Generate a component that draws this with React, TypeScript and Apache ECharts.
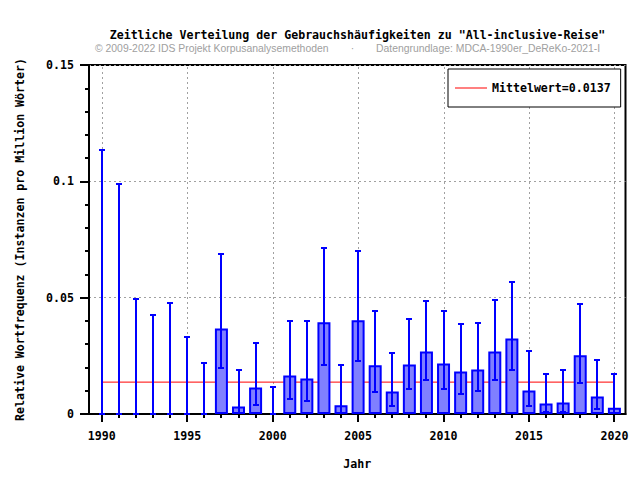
import React, { useEffect, useRef } from "react";
import * as echarts from "echarts";

const years = [
  1990, 1991, 1992, 1993, 1994, 1995, 1996, 1997, 1998, 1999, 2000,
  2001, 2002, 2003, 2004, 2005, 2006, 2007, 2008, 2009, 2010,
  2011, 2012, 2013, 2014, 2015, 2016, 2017, 2018, 2019, 2020,
];
const freq: (number | null)[] = [
  null, null, null, null, null, null, null, 0.0368, 0.0032, 0.0114, null,
  0.0165, 0.0153, 0.0394, 0.0038, 0.0403, 0.0209, 0.0097, 0.0213, 0.0269, 0.0217,
  0.0183, 0.0191, 0.0269, 0.0325, 0.0101, 0.0045, 0.0049, 0.0252, 0.0075, 0.0027,
];
const errLow = [
  0, 0, 0, 0, 0, 0, 0, 0.0196, 0.0003, 0.0039, 0,
  0.0066, 0.0056, 0.0212, 0.0004, 0.0229, 0.0095, 0.0035, 0.0109, 0.0148, 0.0109,
  0.0087, 0.0097, 0.0148, 0.0187, 0.0036, 0.001, 0.001, 0.0135, 0.0023, 0.0004,
];
const errHigh = [
  0.1134, 0.0989, 0.0493, 0.0426, 0.0476, 0.0329, 0.0221, 0.0687, 0.0191, 0.0305, 0.0114,
  0.0398, 0.0398, 0.0713, 0.0212, 0.07, 0.0441, 0.0263, 0.041, 0.0487, 0.0441,
  0.0385, 0.039, 0.0489, 0.0566, 0.0269, 0.0174, 0.0187, 0.0471, 0.0234, 0.0174,
];
const meanValue = 0.0137;
const xTickLabels = ["1990", "1995", "2000", "2005", "2010", "2015", "2020"];

const titleText = 'Zeitliche Verteilung der Gebrauchshäufigkeiten zu "All-inclusive-Reise"';
const subLeft = "© 2009-2022 IDS Projekt Korpusanalysemethoden";
const subDot = "·";
const subRight = "Datengrundlage: MDCA-1990er_DeReKo-2021-I";
const legendLabel = "Mittelwert=0.0137";
const xName = "Jahr";
const yName = "Relative Wortfrequenz (Instanzen pro Million Wörter)";

const MONO = "'DejaVu Sans Mono', monospace";
const SANS = "'Liberation Sans', Arial, sans-serif";
const FS = 11.6;
const SUB_FS = 10.4;

export default function App() {
  const ref = useRef<HTMLDivElement>(null);
  useEffect(() => {
    if (!ref.current) return;
    const chart = echarts.init(ref.current, null, { renderer: "svg" });
    const yMax = 0.15;

    const decorData = years.map((y) => [y, xTickLabels.indexOf(String(y))]);
    const barData = years
      .map((y, i) => [y, freq[i]])
      .filter((d) => d[1] !== null);
    const errData = years.map((y, i) => [y, errLow[i], errHigh[i]]);

    const subStyle = {
      fontFamily: SANS,
      fontSize: SUB_FS,
      fill: "#a0a0a0",
      textVerticalAlign: "middle",
    };

    chart.setOption({
      animation: false,
      grid: {
        left: 89,
        right: 14.5,
        top: 65,
        bottom: 66,
        show: true,
        borderColor: "#000",
        borderWidth: 2,
      },
      graphic: [
        {
          type: "text",
          x: 357.5,
          y: 34.5,
          style: {
            text: titleText,
            fontFamily: MONO,
            fontWeight: "bold",
            fontSize: FS,
            fill: "#000",
            textAlign: "center",
            textVerticalAlign: "middle",
          },
        },
        { type: "text", x: 95, y: 48, style: { ...subStyle, text: subLeft, textAlign: "left" } },
        { type: "text", x: 352.5, y: 48, style: { ...subStyle, text: subDot, textAlign: "center" } },
        { type: "text", x: 376, y: 48, style: { ...subStyle, text: subRight, textAlign: "left" } },
      ],
      legend: {
        data: [{ name: legendLabel, icon: "rect" }],
        left: 448,
        top: 69,
        borderColor: "#000",
        borderWidth: 1,
        backgroundColor: "#fff",
        padding: [12, 10, 12, 7],
        itemWidth: 32,
        itemHeight: 1,
        selectedMode: false,
        textStyle: {
          fontFamily: MONO,
          fontWeight: "bold",
          fontSize: FS,
          color: "#000",
          lineHeight: 14,
        },
      },
      xAxis: {
        type: "value",
        min: 1989.25,
        max: 2020.65,
        name: xName,
        nameLocation: "middle",
        nameGap: 44,
        nameTextStyle: { fontFamily: MONO, fontWeight: "bold", fontSize: FS, color: "#000" },
        axisLine: { show: true, lineStyle: { color: "#000", width: 2 } },
        axisTick: { show: false },
        axisLabel: { show: false },
        splitLine: { show: false },
      },
      yAxis: {
        type: "value",
        min: 0,
        max: yMax,
        interval: 0.05,
        name: yName,
        nameLocation: "middle",
        nameGap: 63,
        nameTextStyle: { fontFamily: MONO, fontWeight: "bold", fontSize: FS, color: "#000" },
        axisLine: { show: true, lineStyle: { color: "#000", width: 2 } },
        axisTick: { show: true, inside: false, length: 9, lineStyle: { color: "#000", width: 2 } },
        minorTick: { show: true, splitNumber: 5, length: 4, lineStyle: { color: "#000", width: 2 } },
        axisLabel: { margin: 15, fontFamily: MONO, fontWeight: "bold", fontSize: FS, color: "#000" },
        splitLine: { show: true, lineStyle: { color: "#a0a0a0", type: [2, 3], width: 1 } },
      },
      series: [
        {
          type: "custom",
          name: "decor",
          z: 1,
          silent: true,
          clip: false,
          data: decorData,
          renderItem: (params: any, api: any) => {
            const x = api.value(0);
            const labelIdx = api.value(1);
            const major = labelIdx >= 0;
            const p0 = api.coord([x, 0]);
            const pTop = api.coord([x, yMax]);
            const px = Math.round(p0[0]);
            const children: any[] = [
              {
                type: "line",
                shape: { x1: px, y1: p0[1], x2: px, y2: p0[1] + (major ? 8 : 4) },
                style: { stroke: "#000", lineWidth: 2 },
              },
            ];
            if (major) {
              children.unshift({
                type: "line",
                shape: { x1: px + 0.5, y1: p0[1], x2: px + 0.5, y2: pTop[1] },
                style: { stroke: "#a0a0a0", lineWidth: 1, lineDash: [2, 3] },
              });
              children.push({
                type: "text",
                x: p0[0],
                y: p0[1] + 22,
                style: {
                  text: xTickLabels[labelIdx],
                  fontFamily: MONO,
                  fontWeight: "bold",
                  fontSize: FS,
                  fill: "#000",
                  textAlign: "center",
                  textVerticalAlign: "middle",
                },
              });
            }
            return { type: "group", children };
          },
        },
        {
          type: "line",
          name: legendLabel,
          z: 2,
          silent: true,
          data: [
            [years[0], meanValue],
            [years[years.length - 1], meanValue],
          ],
          symbol: "none",
          lineStyle: { color: "#ff0000", width: 1 },
          itemStyle: { color: "#ff0000" },
        },
        {
          type: "bar",
          name: "freq",
          z: 3,
          silent: true,
          barWidth: 13,
          data: barData,
          itemStyle: { color: "#8080ff", borderColor: "#0000ff", borderWidth: 2 },
        },
        {
          type: "custom",
          name: "err",
          z: 4,
          silent: true,
          clip: false,
          data: errData,
          renderItem: (params: any, api: any) => {
            const x = api.value(0);
            const lo = api.coord([x, api.value(1)]);
            const hi = api.coord([x, api.value(2)]);
            const px = Math.round(lo[0]);
            const yLo = Math.round(lo[1]);
            const yHi = Math.round(hi[1]);
            const cw = 3;
            const stroke = "#0000ff";
            return {
              type: "group",
              children: [
                {
                  type: "line",
                  shape: { x1: px, y1: yLo, x2: px, y2: yHi },
                  style: { stroke, lineWidth: 2 },
                },
                {
                  type: "line",
                  shape: { x1: px - cw, y1: yHi, x2: px + cw, y2: yHi },
                  style: { stroke, lineWidth: 2 },
                },
                {
                  type: "line",
                  shape: { x1: px - cw, y1: yLo, x2: px + cw, y2: yLo },
                  style: { stroke, lineWidth: 2 },
                },
              ],
            };
          },
        },
      ],
    });
    return () => chart.dispose();
  }, []);
  return (
    <div
      ref={ref}
      style={{ position: "absolute", left: 0, top: 0, width: 640, height: 480, background: "#fff" }}
    />
  );
}
